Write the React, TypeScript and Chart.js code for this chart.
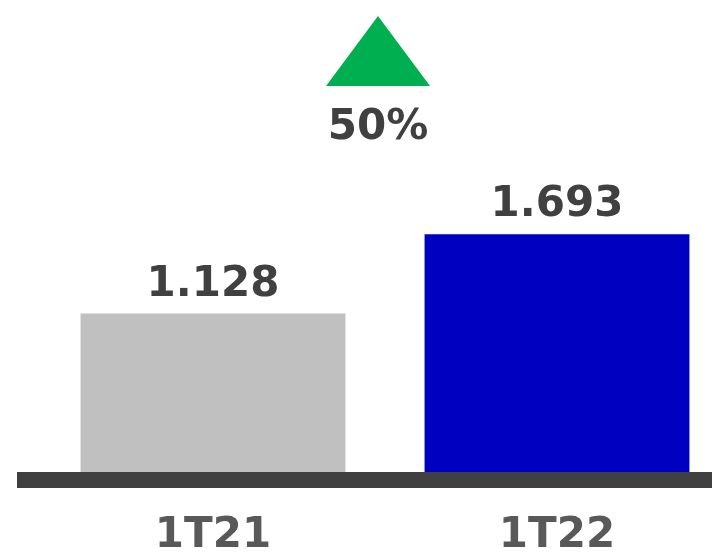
import React, { useEffect, useRef } from "react";
import { Chart, registerables } from "chart.js";

Chart.register(...registerables);

const categories = ["1T21", "1T22"];
const values = [1128, 1693];
const barColors = ["#C0C0C0", "#0000C0"];
const changeLabel = "50%";
const yMax = 3360;

const FONT = "'DejaVu Sans', Verdana, sans-serif";

function fmt(v: number): string {
  return String(v).replace(/\B(?=(\d{3})+(?!\d))/g, ".");
}

const overlayPlugin = {
  id: "overlay",
  afterDatasetsDraw(chart: any) {
    const { ctx, chartArea } = chart;
    const meta = chart.getDatasetMeta(0);
    const yScale = chart.scales.y;
    const base = yScale.getPixelForValue(0);
    ctx.save();
    // baseline
    ctx.fillStyle = "#404040";
    ctx.fillRect(chartArea.left - 24, base, chart.width, 16);
    // value labels
    ctx.font = `bold 42px ${FONT}`;
    ctx.fillStyle = "#404040";
    ctx.textAlign = "center";
    ctx.textBaseline = "alphabetic";
    meta.data.forEach((bar: any, i: number) => {
      ctx.fillText(fmt(values[i]), bar.x, bar.y - 18);
    });
    // change indicator
    const cx = (meta.data[0].x + meta.data[1].x) / 2 - 7;
    ctx.fillStyle = "#00B050";
    ctx.beginPath();
    ctx.moveTo(cx, 16);
    ctx.lineTo(cx + 52, 86);
    ctx.lineTo(cx - 52, 86);
    ctx.closePath();
    ctx.fill();
    ctx.fillStyle = "#404040";
    ctx.font = `bold 42px ${FONT}`;
    ctx.fillText(changeLabel, cx, 139);
    ctx.restore();
  },
};

export default function App() {
  const ref = useRef<HTMLCanvasElement>(null);
  useEffect(() => {
    document.body.style.margin = "0";
    const chart = new Chart(ref.current!, {
      type: "bar",
      data: {
        labels: categories,
        datasets: [
          {
            data: values,
            backgroundColor: barColors,
            borderWidth: 0,
            categoryPercentage: 1,
            barPercentage: 0.77,
          },
        ],
      },
      options: {
        animation: false,
        responsive: false,
        layout: { padding: { left: 41, right: 31, top: 0, bottom: 0 } },
        plugins: { legend: { display: false }, tooltip: { enabled: false } },
        scales: {
          y: { display: false, min: 0, max: yMax },
          x: {
            grid: { display: false, drawTicks: false },
            border: { display: false },
            ticks: {
              padding: 39,
              color: "#595959",
              font: { family: FONT, size: 42, weight: "bold" },
            },
            afterFit: (scale: any) => {
              scale.height = 81;
            },
          },
        },
      },
      plugins: [overlayPlugin],
    });
    return () => chart.destroy();
  }, []);
  return (
    <div style={{ position: "fixed", left: 0, top: 0, width: 712, height: 553, overflow: "hidden", background: "#fff" }}>
      <canvas ref={ref} width={760} height={553} style={{ display: "block" }} />
    </div>
  );
}
